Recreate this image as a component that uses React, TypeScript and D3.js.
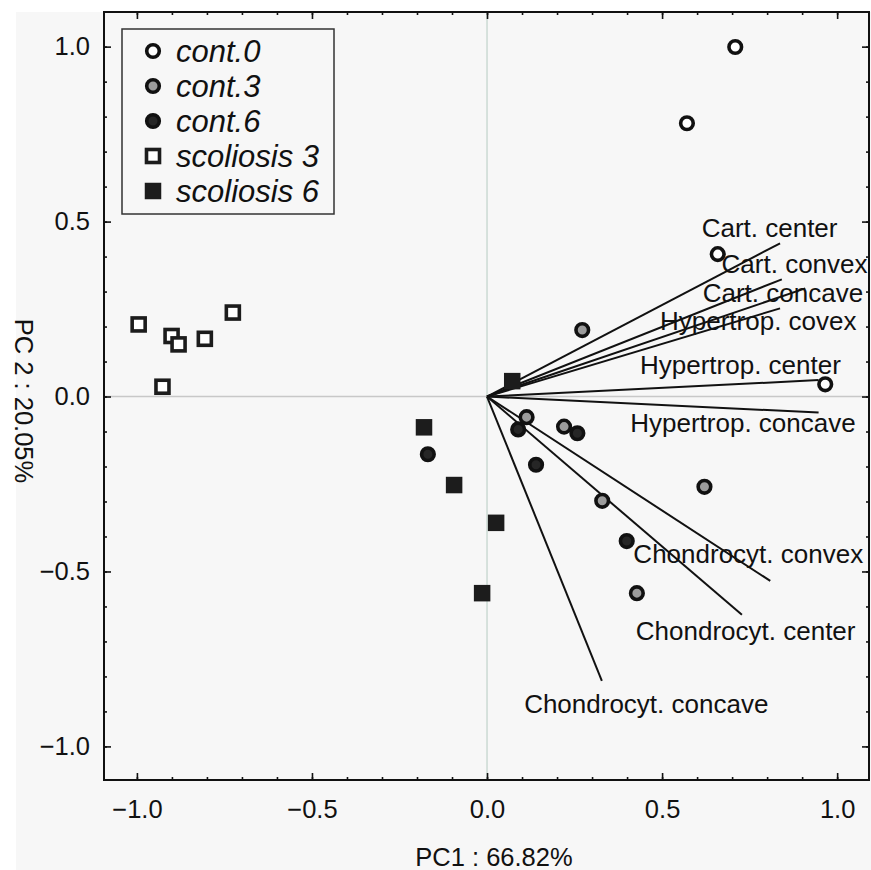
import React, { useRef, useEffect } from "react";
import * as d3 from "d3";

// scores (PC1, PC2) per group
const cont0X = [0.709, 0.571, 0.659, 0.966];
const cont0Y = [0.999, 0.781, 0.407, 0.035];
const cont3X = [0.272, 0.113, 0.22, 0.621, 0.329, 0.428];
const cont3Y = [0.19, -0.059, -0.086, -0.258, -0.298, -0.562];
const cont6X = [0.089, 0.258, -0.169, 0.14, 0.399];
const cont6Y = [-0.094, -0.105, -0.165, -0.195, -0.413];
const scol3X = [-0.995, -0.901, -0.881, -0.806, -0.726, -0.927];
const scol3Y = [0.206, 0.173, 0.149, 0.165, 0.24, 0.028];
const scol6X = [0.072, -0.18, -0.094, 0.026, -0.014];
const scol6Y = [0.044, -0.088, -0.253, -0.361, -0.562];

// loading vectors
const loadingNames = [
  "Cart. center",
  "Cart. convex",
  "Cart. concave",
  "Hypertrop. covex",
  "Hypertrop. center",
  "Hypertrop. concave",
  "Chondrocyt. convex",
  "Chondrocyt. center",
  "Chondrocyt. concave",
];
const loadingX = [0.837, 0.842, 0.909, 0.837, 0.947, 0.947, 0.809, 0.728, 0.328];
const loadingY = [0.438, 0.335, 0.309, 0.252, 0.047, -0.046, -0.527, -0.624, -0.813];
// where each loading label sits (left edge, baseline) in axis units
const labelX = [0.613, 0.67, 0.616, 0.494, 0.437, 0.409, 0.418, 0.425, 0.106];
const labelY = [0.456, 0.353, 0.271, 0.19, 0.064, -0.101, -0.475, -0.696, -0.904];

const legendNames = ["cont.0", "cont.3", "cont.6", "scoliosis 3", "scoliosis 6"];
const majorTicks = [-1, -0.5, 0, 0.5, 1];
const minorTicks = d3.range(-10, 11).map((d) => d / 10);

const xTitle = "PC1 : 66.82%";
const yTitle = "PC 2 : 20.05%";

const FONT = "'Liberation Sans', Arial, sans-serif";

export default function App() {
  const ref = useRef<SVGSVGElement>(null);

  useEffect(() => {
    const width = 871;
    const height = 870;
    const margin = { top: 12, right: 2, bottom: 90, left: 104 };

    const svg = d3.select(ref.current);
    svg.selectAll("*").remove();
    svg.attr("width", width).attr("height", height);

    svg.append("rect").attr("width", width).attr("height", height).attr("fill", "#ffffff");
    svg
      .append("rect")
      .attr("x", 16)
      .attr("y", 12)
      .attr("width", width - 16)
      .attr("height", height - 12)
      .attr("fill", "#f7f7f7");

    const x = d3
      .scaleLinear()
      .domain([-1.094, 1.091])
      .range([margin.left, width - margin.right]);
    const y = d3
      .scaleLinear()
      .domain([-1.096, 1.099])
      .range([height - margin.bottom, margin.top]);

    const x0 = margin.left;
    const x1 = width - margin.right;
    const y0 = margin.top;
    const y1 = height - margin.bottom;

    // zero lines
    svg
      .append("line")
      .attr("x1", x(0))
      .attr("x2", x(0))
      .attr("y1", y0)
      .attr("y2", y1)
      .attr("stroke", "#cbdad3")
      .attr("stroke-width", 1.5);
    svg
      .append("line")
      .attr("x1", x0)
      .attr("x2", x1)
      .attr("y1", y(0))
      .attr("y2", y(0))
      .attr("stroke", "#c8c8c8")
      .attr("stroke-width", 1.5);

    // axes: minor + major ticks on all four sides, pointing inward
    const addAxis = (axis: any, tx: number, ty: number, labels: boolean) => {
      const g = svg.append("g").attr("transform", `translate(${tx},${ty})`);
      g.call(axis);
      g.select(".domain").remove();
      g.selectAll("line").attr("stroke", "#111").attr("stroke-width", 1.6);
      if (labels) {
        g.selectAll("text")
          .style("font-family", FONT)
          .style("font-size", "25.5px")
          .attr("fill", "#111");
      }
      return g;
    };
    const fmt = d3.format(".1f");

    addAxis(d3.axisBottom(x).tickValues(minorTicks).tickSize(-3).tickFormat(() => ""), 0, y1, false);
    addAxis(d3.axisBottom(x).tickValues(majorTicks).tickSize(-7).tickPadding(20).tickFormat((d: any) => fmt(d)), 0, y1, true);
    addAxis(d3.axisTop(x).tickValues(minorTicks).tickSize(-3).tickFormat(() => ""), 0, y0, false);
    addAxis(d3.axisTop(x).tickValues(majorTicks).tickSize(-7).tickFormat(() => ""), 0, y0, false);
    addAxis(d3.axisLeft(y).tickValues(minorTicks).tickSize(-3).tickFormat(() => ""), x0, 0, false);
    addAxis(d3.axisLeft(y).tickValues(majorTicks).tickSize(-7).tickPadding(14).tickFormat((d: any) => fmt(d)), x0, 0, true);
    addAxis(d3.axisRight(y).tickValues(minorTicks).tickSize(-3).tickFormat(() => ""), x1, 0, false);
    addAxis(d3.axisRight(y).tickValues(majorTicks).tickSize(-7).tickFormat(() => ""), x1, 0, false);

    // frame
    svg
      .append("rect")
      .attr("x", x0)
      .attr("y", y0)
      .attr("width", x1 - x0)
      .attr("height", y1 - y0)
      .attr("fill", "none")
      .attr("stroke", "#111")
      .attr("stroke-width", 2);

    // loading lines
    const g = svg.append("g");
    g.selectAll(".loading")
      .data(loadingNames)
      .enter()
      .append("line")
      .attr("x1", x(0))
      .attr("y1", y(0))
      .attr("x2", (d, i) => x(loadingX[i]))
      .attr("y2", (d, i) => y(loadingY[i]))
      .attr("stroke", "#111")
      .attr("stroke-width", 2);

    // points
    const circles = (xs: number[], ys: number[], fill: string) => {
      g.selectAll(null)
        .data(xs)
        .enter()
        .append("circle")
        .attr("cx", (d) => x(d))
        .attr("cy", (d, i) => y(ys[i]))
        .attr("r", 6.3)
        .attr("fill", fill)
        .attr("stroke", "#111")
        .attr("stroke-width", 3.6);
    };
    const squares = (xs: number[], ys: number[], filled: boolean) => {
      const s = filled ? 16.5 : 13;
      g.selectAll(null)
        .data(xs)
        .enter()
        .append("rect")
        .attr("x", (d) => x(d) - s / 2)
        .attr("y", (d, i) => y(ys[i]) - s / 2)
        .attr("width", s)
        .attr("height", s)
        .attr("fill", filled ? "#1c1c1c" : "#ffffff")
        .attr("stroke", filled ? "none" : "#1c1c1c")
        .attr("stroke-width", 3.6);
    };
    squares(scol3X, scol3Y, false);
    squares(scol6X, scol6Y, true);
    circles(cont0X, cont0Y, "#ffffff");
    circles(cont3X, cont3Y, "#9c9c9c");
    circles(cont6X, cont6Y, "#262626");

    // loading labels
    g.selectAll(".lab")
      .data(loadingNames)
      .enter()
      .append("text")
      .attr("x", (d, i) => x(labelX[i]))
      .attr("y", (d, i) => y(labelY[i]))
      .style("font-family", FONT)
      .style("font-size", "26px")
      .attr("fill", "#111")
      .text((d) => d);

    // legend
    const lg = svg.append("g");
    lg.append("rect")
      .attr("x", 122)
      .attr("y", 29)
      .attr("width", 212)
      .attr("height", 185)
      .attr("fill", "none")
      .attr("stroke", "#333")
      .attr("stroke-width", 1.5);
    legendNames.forEach((name, i) => {
      const cy = 51 + i * 35;
      if (i < 3) {
        lg.append("circle")
          .attr("cx", 153)
          .attr("cy", cy)
          .attr("r", 6.3)
          .attr("fill", ["#ffffff", "#9c9c9c", "#262626"][i])
          .attr("stroke", "#111")
          .attr("stroke-width", 3.6);
      } else {
        const s = i === 4 ? 16.5 : 13;
        lg.append("rect")
          .attr("x", 153 - s / 2)
          .attr("y", cy - s / 2)
          .attr("width", s)
          .attr("height", s)
          .attr("fill", i === 4 ? "#1c1c1c" : "#ffffff")
          .attr("stroke", i === 4 ? "none" : "#1c1c1c")
          .attr("stroke-width", 3.6);
      }
      lg.append("text")
        .attr("x", 176)
        .attr("y", cy)
        .attr("dy", "0.36em")
        .style("font-family", FONT)
        .style("font-style", "italic")
        .style("font-size", "31px")
        .attr("fill", "#111")
        .text(name);
    });

    // axis titles
    svg
      .append("text")
      .attr("x", 494)
      .attr("y", 866)
      .attr("text-anchor", "middle")
      .style("font-family", FONT)
      .style("font-size", "25.5px")
      .attr("fill", "#111")
      .text(xTitle);
    svg
      .append("text")
      .attr("transform", "translate(15,401) rotate(90)")
      .attr("text-anchor", "middle")
      .style("font-family", FONT)
      .style("font-size", "25.5px")
      .attr("fill", "#111")
      .text(yTitle);
  }, []);

  return (
    <div style={{ position: "absolute", left: 0, top: 0 }}>
      <svg ref={ref}></svg>
    </div>
  );
}
